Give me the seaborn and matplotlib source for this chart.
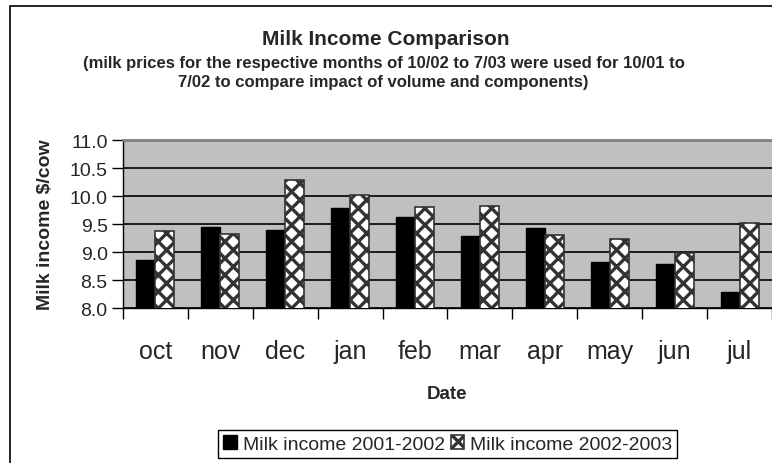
import pandas as pd
import numpy as np
import seaborn as sns
import matplotlib.pyplot as plt
from matplotlib.patches import Rectangle
from matplotlib.ticker import FixedLocator

# Monthly milk income ($/cow)
months = ['oct', 'nov', 'dec', 'jan', 'feb', 'mar', 'apr', 'may', 'jun', 'jul']
income_2001_2002 = [8.85, 9.44, 9.39, 9.78, 9.63, 9.29, 9.43, 8.82, 8.79, 8.28]
income_2002_2003 = [9.38, 9.33, 10.29, 10.02, 9.80, 9.83, 9.30, 9.23, 8.98, 9.52]
series_names = ['Milk income 2001-2002', 'Milk income 2002-2003']

df = pd.DataFrame({
    'month': months * 2,
    'income': income_2001_2002 + income_2002_2003,
    'series': [series_names[0]] * len(months) + [series_names[1]] * len(months),
})

sns.set_style('white')
plt.rcParams['font.family'] = ['Liberation Sans', 'DejaVu Sans']
plt.rcParams['hatch.linewidth'] = 2.4

fig = plt.figure(figsize=(7.72, 4.64), dpi=100)
ax = fig.add_axes([0.1593, 0.334, 0.8407, 0.362])

sns.barplot(data=df, x='month', y='income', hue='series', order=months,
            hue_order=series_names, palette=['black', 'white'],
            width=0.585, gap=0, saturation=1, ax=ax, legend=False, zorder=3)

# black bars and white bars with dark diamond pattern
for bar in ax.containers[0]:
    bar.set_edgecolor('black')
    bar.set_linewidth(1)
for bar in ax.containers[1]:
    bar.set_hatch('xx')
    bar.set_edgecolor('#333333')
    bar.set_linewidth(1.2)

ax.set_facecolor('#c0c0c0')
ax.set_ylim(8, 11)
ax.set_xlim(-0.5, len(months) - 0.5)
ax.set_yticks(np.arange(8, 11.01, 0.5))
ax.set_yticklabels([f'{v:.1f}' for v in np.arange(8, 11.01, 0.5)])
ax.yaxis.grid(True, color='black', linewidth=1.2, zorder=1)
ax.set_axisbelow(True)

ax.xaxis.set_minor_locator(FixedLocator(np.arange(-0.5, len(months), 1)))
ax.tick_params(axis='x', which='major', length=0, pad=22, labelsize=18)
ax.tick_params(axis='x', which='minor', length=8, width=1, color='black', direction='out', bottom=True)
ax.tick_params(axis='y', length=8, width=1, color='black', direction='out', left=True, labelsize=14, pad=3)

for side in ['left', 'bottom']:
    ax.spines[side].set_color('black')
    ax.spines[side].set_linewidth(1)
ax.spines['top'].set_color('#808080')
ax.spines['top'].set_linewidth(2)
ax.spines['right'].set_visible(False)

ax.set_xlabel('Date', fontsize=13.5, fontweight='bold')
ax.xaxis.set_label_coords(0.5, -0.46)
ax.set_ylabel('Milk income $/cow', fontsize=14, fontweight='bold', labelpad=11)

fig.text(0.5, 0.914, 'Milk Income Comparison', ha='center', va='center',
         fontsize=15, fontweight='bold')
fig.text(0.497, 0.843, '(milk prices for the respective months of 10/02 to 7/03 were used for 10/01 to\n'
         '7/02 to compare impact of volume and components)',
         ha='center', va='center', fontsize=12, fontweight='bold', linespacing=1.3)

# chart frame
fig.patches.append(Rectangle((0.013, -0.1), 1.2, 1.085, transform=fig.transFigure,
                             fill=False, edgecolor='black', linewidth=1.2))

fig.legend(handles=[ax.containers[0][0], ax.containers[1][0]], labels=series_names,
           loc='center', bbox_to_anchor=(0.58, 0.041), ncol=2, fontsize=14,
           frameon=True, fancybox=False, edgecolor='black', framealpha=1,
           handlelength=0.7, handleheight=0.7, handletextpad=0.3,
           columnspacing=0.3, borderpad=0.25, borderaxespad=0)

fig.savefig('out.png', dpi=100)
